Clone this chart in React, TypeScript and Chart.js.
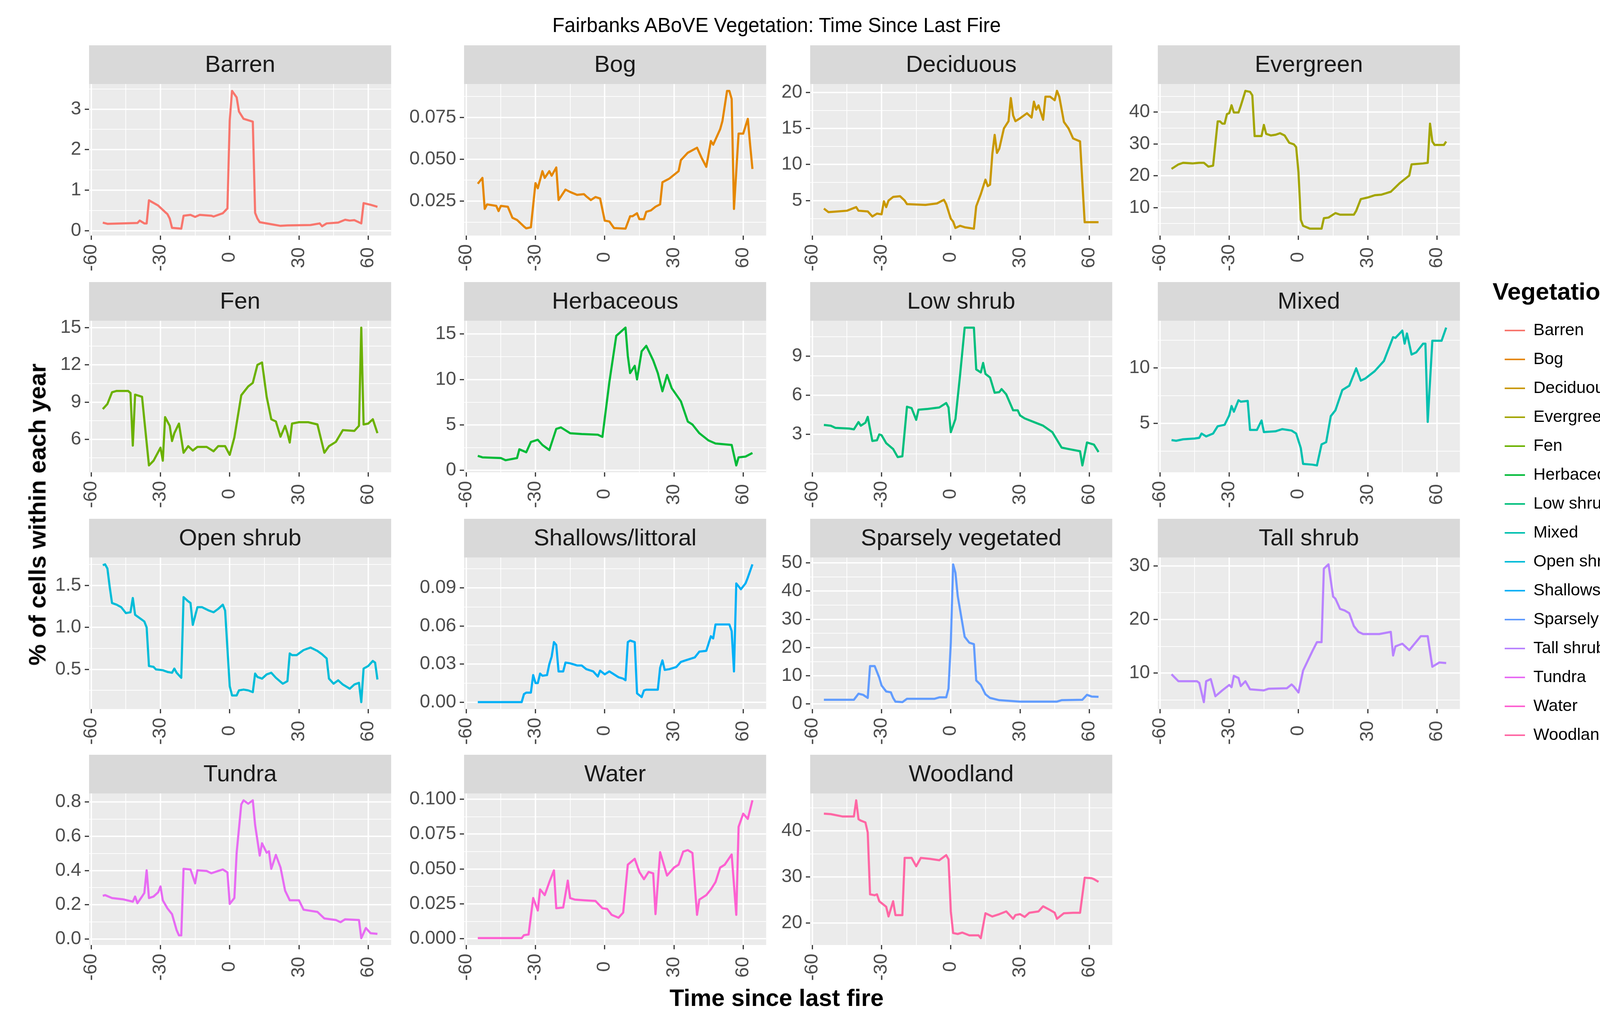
import React, { useEffect, useRef } from 'react';
import { Chart, registerables } from 'chart.js';

Chart.register(...registerables);

const FONT = '"Liberation Sans", Arial, sans-serif';

// ------------------------------------------------------------------ data
const vegetation = [
  'Barren', 'Bog', 'Deciduous', 'Evergreen', 'Fen', 'Herbaceous', 'Low shrub', 'Mixed',
  'Open shrub', 'Shallows/littoral', 'Sparsely vegetated', 'Tall shrub', 'Tundra', 'Water', 'Woodland',
];
const vegColors = [
  '#F8766D', '#E58700', '#C99800', '#A3A500', '#6BB100', '#00BA38', '#00BF7D', '#00C0AF',
  '#00BCD8', '#00B0F6', '#619CFF', '#B983FF', '#E76BF3', '#FD61D1', '#FF67A4',
];

const xTicks = [-60, -30, 0, 30, 60];
const xTickLabels = ['-60', '-30', '0', '30', '60'];

type Pt = [number, number];

const barren: Pt[] = [[-55,0.20],[-53,0.17],[-40,0.19],[-39,0.25],[-37,0.18],[-36,0.18],[-35,0.75],[-31,0.62],[-28,0.46],[-27,0.41],[-26,0.30],[-25,0.07],[-21,0.05],[-20,0.37],[-17,0.39],[-15,0.34],[-13,0.39],[-8,0.37],[-7,0.35],[-3,0.43],[-1,0.55],[0,2.72],[1,3.45],[3,3.29],[4,2.94],[6,2.76],[10,2.69],[11,0.44],[12,0.30],[13,0.21],[18,0.16],[22,0.12],[25,0.13],[35,0.14],[39,0.18],[40,0.11],[42,0.18],[47,0.20],[50,0.27],[52,0.25],[54,0.26],[57,0.18],[58,0.68],[61,0.64],[64,0.59]];
const bog: Pt[] = [[-55,0.0354],[-53,0.0389],[-52,0.0204],[-51,0.0231],[-47,0.0222],[-46,0.0191],[-45,0.0222],[-42,0.0217],[-40,0.0151],[-38,0.0138],[-35,0.0099],[-34,0.0088],[-32,0.0094],[-30,0.0358],[-29,0.0327],[-27,0.0429],[-26,0.0389],[-24,0.0429],[-23,0.0402],[-21,0.0451],[-20,0.0257],[-17,0.0319],[-15,0.0305],[-12,0.0288],[-9,0.0292],[-8,0.0279],[-6,0.0257],[-4,0.0275],[-2,0.0266],[0,0.0134],[2,0.0129],[4,0.0090],[9,0.0086],[11,0.0160],[12,0.0160],[14,0.0178],[15,0.0143],[17,0.0143],[18,0.0187],[20,0.0195],[22,0.0217],[24,0.0231],[25,0.0363],[28,0.0385],[30,0.0407],[32,0.0429],[33,0.0495],[36,0.0539],[40,0.0569],[42,0.0508],[44,0.0455],[46,0.0609],[47,0.0587],[50,0.0679],[51,0.0728],[53,0.0908],[54,0.0908],[55,0.0860],[56,0.0204],[58,0.0653],[60,0.0653],[62,0.0741],[63,0.0587],[64,0.0442]];
const deciduous: Pt[] = [[-55,3.89],[-53,3.39],[-49,3.49],[-45,3.59],[-41,4.09],[-40,3.59],[-36,3.49],[-34,2.79],[-32,3.19],[-30,3.09],[-29,4.9],[-28,4.09],[-27,5.0],[-25,5.5],[-22,5.6],[-20,5.0],[-19,4.5],[-11,4.4],[-6,4.6],[-3,5.1],[-2,4.5],[0,2.48],[1,2.08],[2,1.2],[4,1.5],[6,1.3],[10,1.1],[11,4.2],[13,5.9],[15,7.9],[16,7.0],[17,7.2],[18,11.5],[19,14.1],[20,11.6],[21,12.2],[23,15],[25,16],[26,19.2],[27,16.8],[28,16],[30,16.4],[33,17.1],[35,16.5],[36,18.7],[37,17.6],[38,18.2],[40,16.2],[41,19.4],[43,19.4],[45,18.9],[46,20.2],[47,19.4],[49,15.9],[51,15],[53,13.6],[56,13.2],[57,7.5],[58,2.0],[64,2.0]];
const evergreen: Pt[] = [[-55,22.2],[-52,23.6],[-50,24.1],[-46,23.9],[-43,24.1],[-41,24.1],[-39,22.9],[-37,23.2],[-35,37.1],[-34,37.1],[-33,36.4],[-32,36.4],[-31,39.4],[-30,39.7],[-29,42.2],[-28,39.9],[-26,39.9],[-25,42],[-23,46.7],[-21,46.4],[-20,45.3],[-19,32.5],[-16,32.5],[-15,36],[-14,33.2],[-12,32.7],[-10,32.9],[-8,33.4],[-6,32.7],[-4,30.4],[-2,29.9],[-1,29],[0,21.1],[1,6.2],[2,4.3],[5,3.4],[10,3.4],[11,6.7],[13,6.9],[16,8.3],[18,7.8],[24,7.8],[25,9],[27,12.7],[30,13.2],[33,13.9],[36,14.1],[40,15],[42,16.4],[44,17.8],[48,20.1],[49,23.6],[54,23.9],[56,24.1],[57,36.4],[58,30.8],[59,29.7],[63,29.7],[64,30.8]];
const fen: Pt[] = [[-55,8.44],[-53,8.85],[-51,9.79],[-49,9.9],[-44,9.9],[-43,9.73],[-42,5.5],[-41,9.6],[-38,9.43],[-37,7.56],[-35,3.9],[-33,4.28],[-30,5.33],[-29,4.28],[-28,7.79],[-26,7.09],[-25,5.86],[-24,6.5],[-22,7.27],[-20,4.92],[-18,5.45],[-16,5.1],[-14,5.39],[-10,5.39],[-7,5.04],[-5,5.45],[-2,5.45],[0,4.75],[2,6.15],[5,9.55],[8,10.26],[10,10.55],[12,12.0],[14,12.19],[16,9.43],[18,7.62],[20,7.44],[22,6.21],[24,7.09],[25,6.5],[26,5.74],[27,7.27],[30,7.38],[34,7.38],[38,7.2],[41,4.92],[43,5.45],[46,5.8],[49,6.74],[54,6.68],[56,7.09],[57,15.0],[58,7.2],[60,7.27],[62,7.62],[64,6.5]];
const herbaceous: Pt[] = [[-55,1.6],[-53,1.44],[-45,1.36],[-43,1.12],[-38,1.36],[-37,2.32],[-34,2.0],[-32,3.13],[-29,3.37],[-27,2.8],[-24,2.24],[-21,4.57],[-19,4.73],[-15,4.09],[-10,4.0],[-3,3.93],[-1,3.69],[2,9.7],[5,14.8],[9,15.7],[10,12.6],[11,10.7],[13,11.5],[14,10.0],[16,13.1],[18,13.7],[21,12.1],[23,10.7],[25,8.7],[27,10.5],[29,9.05],[33,7.6],[36,5.37],[38,5.05],[41,4.09],[45,3.29],[48,2.96],[55,2.8],[57,0.55],[58,1.44],[61,1.52],[64,1.92]];
const lowShrub: Pt[] = [[-55,3.73],[-52,3.67],[-50,3.5],[-44,3.45],[-42,3.39],[-40,3.95],[-39,3.67],[-37,3.9],[-36,4.35],[-34,2.5],[-32,2.55],[-31,3.0],[-30,2.94],[-28,2.33],[-25,1.88],[-23,1.26],[-21,1.32],[-19,5.13],[-17,5.02],[-15,4.12],[-14,4.9],[-10,4.96],[-5,5.07],[-2,5.41],[-1,5.07],[0,3.17],[2,4.18],[4,7.54],[6,11.2],[10,11.2],[11,7.99],[13,7.76],[14,8.49],[15,7.65],[17,7.37],[19,6.2],[21,6.25],[22,6.48],[24,6.08],[27,4.85],[29,4.85],[30,4.46],[32,4.23],[36,3.95],[40,3.67],[44,3.17],[48,1.99],[51,1.88],[56,1.71],[57,0.62],[59,2.38],[62,2.22],[64,1.65]];
const mixed: Pt[] = [[-55,3.49],[-53,3.43],[-50,3.56],[-45,3.63],[-43,3.69],[-42,4.08],[-40,3.82],[-37,4.08],[-35,4.74],[-32,4.87],[-30,5.72],[-29,6.57],[-28,6.05],[-26,7.09],[-25,6.96],[-22,7.03],[-21,4.41],[-18,4.41],[-16,5.26],[-15,4.21],[-10,4.28],[-7,4.48],[-3,4.35],[-1,4.08],[1,2.77],[2,1.34],[6,1.27],[8,1.2],[10,3.1],[12,3.3],[14,5.65],[16,6.18],[19,8.01],[22,8.4],[25,9.97],[27,8.86],[29,9.06],[33,9.71],[37,10.63],[41,12.79],[42,12.72],[45,13.38],[46,12.2],[47,13.12],[49,11.22],[51,11.41],[54,12.2],[55,12.2],[56,5.13],[58,12.46],[62,12.46],[64,13.65]];
const openShrub: Pt[] = [[-55,1.74],[-54,1.75],[-53,1.70],[-52,1.48],[-51,1.29],[-49,1.27],[-47,1.24],[-45,1.17],[-43,1.18],[-42,1.35],[-41,1.15],[-39,1.11],[-37,1.07],[-36,1.0],[-35,0.54],[-33,0.53],[-32,0.5],[-29,0.49],[-27,0.47],[-25,0.46],[-24,0.51],[-23,0.46],[-21,0.40],[-20,1.36],[-18,1.31],[-17,1.29],[-16,1.03],[-14,1.24],[-12,1.24],[-9,1.2],[-7,1.18],[-5,1.22],[-3,1.27],[-2,1.2],[-1,0.75],[0,0.30],[1,0.19],[3,0.19],[4,0.25],[6,0.26],[8,0.25],[10,0.23],[11,0.45],[12,0.41],[14,0.39],[16,0.44],[18,0.46],[20,0.40],[23,0.33],[25,0.36],[26,0.69],[27,0.67],[29,0.67],[32,0.73],[35,0.76],[38,0.72],[40,0.68],[42,0.63],[43,0.39],[45,0.33],[47,0.37],[49,0.32],[52,0.27],[54,0.32],[56,0.34],[57,0.11],[58,0.51],[60,0.54],[62,0.60],[63,0.58],[64,0.38]];
const shallows: Pt[] = [[-55,0],[-36,0],[-35,0.0063],[-34,0.0075],[-32,0.0075],[-31,0.0213],[-30,0.015],[-29,0.015],[-28,0.0225],[-27,0.0208],[-25,0.0213],[-24,0.030],[-23,0.0358],[-22,0.0473],[-21,0.045],[-20,0.0242],[-18,0.0242],[-17,0.0312],[-15,0.0306],[-12,0.0289],[-10,0.0289],[-8,0.026],[-5,0.0242],[-3,0.0202],[-2,0.0248],[0,0.0219],[2,0.0242],[4,0.0219],[6,0.0196],[8,0.0185],[9,0.0173],[10,0.0473],[11,0.0485],[13,0.0473],[14,0.0069],[16,0.004],[17,0.0092],[18,0.0098],[23,0.0098],[24,0.0271],[25,0.0329],[26,0.0254],[28,0.026],[31,0.0277],[33,0.0317],[35,0.0329],[39,0.0352],[41,0.0398],[44,0.0404],[46,0.0519],[47,0.0502],[48,0.0612],[54,0.0612],[55,0.056],[56,0.0242],[57,0.0935],[59,0.0889],[61,0.0935],[62,0.0981],[64,0.1085]];
const sparsely: Pt[] = [[-55,1.45],[-42,1.45],[-40,3.6],[-38,3.2],[-36,2.1],[-35,13.4],[-33,13.4],[-31,9.3],[-30,6.5],[-28,4.4],[-26,4.1],[-25,2.1],[-24,0.8],[-21,0.6],[-19,1.8],[-7,1.8],[-5,2.3],[-2,2.3],[-1,5.4],[0,21.7],[1,49.5],[2,46.5],[3,38.2],[6,23.8],[8,21.7],[10,21.2],[11,8.3],[13,6.7],[15,3.4],[17,2.1],[21,1.3],[30,0.8],[46,0.8],[48,1.3],[57,1.45],[59,3.2],[61,2.6],[64,2.5]];
const tallShrub: Pt[] = [[-55,9.8],[-52,8.5],[-44,8.5],[-43,8.2],[-41,4.6],[-40,8.5],[-38,8.9],[-36,5.7],[-33,6.8],[-30,7.8],[-29,7.4],[-28,9.5],[-26,9.1],[-25,7.6],[-23,8.5],[-21,7.0],[-15,6.8],[-13,7.1],[-5,7.2],[-3,7.9],[-2,7.5],[0,6.4],[2,10.5],[6,14.1],[8,15.8],[10,15.8],[11,29.5],[13,30.3],[15,24.3],[16,23.9],[18,22],[20,21.7],[22,21.2],[24,18.8],[26,17.7],[28,17.3],[35,17.3],[40,17.7],[41,13.3],[42,15],[45,15.5],[48,14.3],[53,16.9],[56,16.9],[58,11.2],[61,12],[64,11.9]];
const tundra: Pt[] = [[-55,0.252],[-54,0.256],[-51,0.239],[-46,0.231],[-42,0.218],[-41,0.248],[-40,0.209],[-38,0.248],[-37,0.269],[-36,0.401],[-35,0.239],[-33,0.248],[-31,0.273],[-30,0.307],[-29,0.226],[-27,0.179],[-25,0.145],[-23,0.051],[-22,0.021],[-21,0.021],[-20,0.41],[-17,0.406],[-15,0.325],[-14,0.401],[-10,0.397],[-8,0.384],[-6,0.393],[-3,0.406],[-1,0.389],[0,0.205],[2,0.239],[3,0.504],[5,0.786],[6,0.81],[8,0.79],[10,0.81],[11,0.666],[13,0.487],[14,0.559],[16,0.504],[17,0.512],[18,0.41],[20,0.491],[22,0.418],[24,0.282],[26,0.226],[30,0.226],[32,0.171],[38,0.158],[41,0.12],[46,0.111],[48,0.098],[50,0.115],[56,0.111],[57,0.005],[59,0.064],[61,0.034],[64,0.03]];
const water: Pt[] = [[-55,0.0005],[-36,0.0005],[-35,0.0026],[-33,0.0031],[-31,0.0292],[-29,0.0203],[-28,0.0354],[-26,0.0313],[-24,0.0406],[-22,0.049],[-21,0.0219],[-18,0.0224],[-16,0.0417],[-15,0.0292],[-13,0.0281],[-9,0.0276],[-4,0.0271],[-1,0.0219],[1,0.0214],[3,0.0172],[6,0.0151],[8,0.0188],[10,0.0531],[13,0.0573],[15,0.0479],[17,0.0427],[19,0.0479],[21,0.0469],[22,0.0177],[24,0.062],[27,0.0453],[30,0.051],[32,0.0531],[34,0.0625],[36,0.0635],[38,0.0615],[40,0.0172],[41,0.0281],[44,0.0313],[46,0.0354],[48,0.0406],[50,0.051],[52,0.0531],[55,0.0604],[57,0.0172],[58,0.0802],[60,0.0896],[62,0.0859],[64,0.0992]];
const woodland: Pt[] = [[-55,43.7],[-52,43.6],[-47,43.1],[-42,43.1],[-41,46.6],[-40,42.5],[-39,42.2],[-37,41.8],[-36,39.6],[-35,26.2],[-33,26],[-32,26.2],[-31,24.7],[-28,23.5],[-27,21.4],[-25,24.7],[-24,21.7],[-21,21.7],[-20,34.1],[-17,34.1],[-15,32.3],[-13,34.1],[-9,33.9],[-5,33.6],[-2,34.7],[-1,33.8],[0,22.5],[1,17.8],[3,17.6],[5,17.9],[8,17.3],[12,17.3],[13,16.7],[15,22.1],[18,21.4],[21,21.9],[24,22.5],[27,20.9],[28,21.7],[30,21.9],[32,21.3],[34,22.2],[38,22.5],[40,23.6],[43,22.8],[45,22.2],[46,20.9],[49,22.1],[53,22.2],[56,22.2],[58,29.8],[61,29.7],[62,29.5],[64,28.9]];

const series: Pt[][] = [barren, bog, deciduous, evergreen, fen, herbaceous, lowShrub, mixed, openShrub, shallows, sparsely, tallShrub, tundra, water, woodland];

const yTickValues: number[][] = [
  [0, 1, 2, 3], [0.025, 0.05, 0.075], [5, 10, 15, 20], [10, 20, 30, 40],
  [6, 9, 12, 15], [0, 5, 10, 15], [3, 6, 9], [5, 10],
  [0.5, 1.0, 1.5], [0, 0.03, 0.06, 0.09], [0, 10, 20, 30, 40, 50], [10, 20, 30],
  [0, 0.2, 0.4, 0.6, 0.8], [0, 0.025, 0.05, 0.075, 0.1], [20, 30, 40],
];
const yTickLabels: string[][] = [
  ['0', '1', '2', '3'], ['0.025', '0.050', '0.075'], ['5', '10', '15', '20'], ['10', '20', '30', '40'],
  ['6', '9', '12', '15'], ['0', '5', '10', '15'], ['3', '6', '9'], ['5', '10'],
  ['0.5', '1.0', '1.5'], ['0.00', '0.03', '0.06', '0.09'], ['0', '10', '20', '30', '40', '50'], ['10', '20', '30'],
  ['0.0', '0.2', '0.4', '0.6', '0.8'], ['0.000', '0.025', '0.050', '0.075', '0.100'], ['20', '30', '40'],
];

// ------------------------------------------------------------------ layout
const PAGE_W = 4310, PAGE_H = 2634;
const COL_LEFT = [228, 1188, 2074, 2964];
const ROW_TOP = [116, 722, 1328, 1932];
const PANEL_W = 784, PANEL_H = 388, STRIP_H = 99;
const AXIS_W = 180, XAXIS_H = 100;
const TICK_SIZE = 48;

function expand(lo: number, hi: number): [number, number] {
  const r = hi - lo;
  return [lo - 0.05 * r, hi + 0.05 * r];
}

const allX = series.flat().map((p) => p[0]);
const [X_MIN, X_MAX] = expand(Math.min(...allX), Math.max(...allX));

function withMinors(major: number[], lo: number, hi: number): number[] {
  const step = major[1] - major[0];
  const all = [major[0] - step / 2];
  major.forEach((m) => { all.push(m); all.push(m + step / 2); });
  return all.filter((v) => v >= lo && v <= hi).sort((a, b) => a - b);
}
function majorIndex(major: number[], v: number): number {
  const step = Math.abs(major[1] - major[0]);
  return major.findIndex((m) => Math.abs(m - v) < step * 1e-6);
}

// centre the rotated x labels like ggplot (Chart.js right-aligns rotated text)
function centredXLabels(): string[] {
  const c = document.createElement('canvas').getContext('2d') as CanvasRenderingContext2D;
  c.font = `${TICK_SIZE}px ${FONT}`;
  const widths = xTickLabels.map((l) => c.measureText(l).width);
  const wMax = Math.max(...widths);
  let sp = '\u200A';
  let spW = c.measureText(sp.repeat(10)).width / 10;
  if (!(spW > 0.5)) { sp = ' '; spW = c.measureText('          ').width / 10; }
  return xTickLabels.map((l, i) => l + sp.repeat(Math.max(0, Math.round((wMax - widths[i]) / 2 / spW))));
}

const panelBackground = {
  id: 'panelBackground',
  beforeDraw(chart: any) {
    const { ctx, chartArea: a } = chart;
    ctx.save();
    ctx.fillStyle = '#D9D9D9';
    ctx.fillRect(a.left, a.top - STRIP_H, a.right - a.left, STRIP_H);
    ctx.fillStyle = '#EBEBEB';
    ctx.fillRect(a.left, a.top, a.right - a.left, a.bottom - a.top);
    ctx.restore();
  },
};

function FacetPanel({ idx }: { idx: number }) {
  const ref = useRef<HTMLCanvasElement>(null);
  const row = Math.floor(idx / 4);
  const col = idx % 4;
  const left = COL_LEFT[col] - AXIS_W;
  const top = ROW_TOP[row];
  const w = AXIS_W + PANEL_W;
  const h = STRIP_H + PANEL_H + XAXIS_H;

  useEffect(() => {
    const data = series[idx];
    const ys = data.map((p) => p[1]);
    const [yMin, yMax] = expand(Math.min(...ys), Math.max(...ys));
    const yMaj = yTickValues[idx];
    const yLab = yTickLabels[idx];
    const yAll = withMinors(yMaj, yMin, yMax);
    const xAll = withMinors(xTicks, X_MIN, X_MAX);
    const xLab = centredXLabels();

    const gridFor = (major: number[]) => ({
      color: '#FFFFFF',
      lineWidth: (c: any) => (c.tick && majorIndex(major, c.tick.value) >= 0 ? 3.5 : 1.8),
      drawTicks: true,
      tickLength: 11,
      tickWidth: 3,
      tickColor: (c: any) => (c.tick && majorIndex(major, c.tick.value) >= 0 ? '#333333' : 'rgba(0,0,0,0)'),
    });

    const chart = new Chart(ref.current as HTMLCanvasElement, {
      type: 'line',
      data: {
        datasets: [{
          label: vegetation[idx],
          data: data.map(([x, y]) => ({ x, y })),
          borderColor: vegColors[idx],
          backgroundColor: vegColors[idx],
          borderWidth: 5.5,
          pointRadius: 0,
          tension: 0,
          fill: false,
          borderJoinStyle: 'round',
        }],
      },
      options: {
        animation: false,
        responsive: false,
        maintainAspectRatio: false,
        devicePixelRatio: 1,
        events: [],
        layout: { padding: 0 },
        scales: {
          x: {
            type: 'linear',
            position: 'bottom',
            min: X_MIN,
            max: X_MAX,
            bounds: 'data',
            afterBuildTicks: (s: any) => { s.ticks = xAll.map((v) => ({ value: v })); },
            afterFit: (s: any) => { s.height = XAXIS_H; },
            grid: gridFor(xTicks),
            border: { display: false },
            ticks: {
              autoSkip: false,
              maxRotation: 90,
              minRotation: 90,
              padding: 11,
              color: '#4D4D4D',
              font: { family: FONT, size: TICK_SIZE },
              callback: (v: any) => { const i = majorIndex(xTicks, Number(v)); return i >= 0 ? xLab[i] : ''; },
            },
          },
          y: {
            type: 'linear',
            position: 'left',
            min: yMin,
            max: yMax,
            bounds: 'data',
            afterBuildTicks: (s: any) => { s.ticks = yAll.map((v) => ({ value: v })); },
            afterFit: (s: any) => { s.width = AXIS_W; },
            grid: gridFor(yMaj),
            border: { display: false },
            ticks: {
              autoSkip: false,
              padding: 9,
              color: '#4D4D4D',
              font: { family: FONT, size: TICK_SIZE },
              callback: (v: any) => { const i = majorIndex(yMaj, Number(v)); return i >= 0 ? yLab[i] : ''; },
            },
          },
        },
        plugins: {
          legend: { display: false },
          tooltip: { enabled: false },
          title: {
            display: true,
            text: vegetation[idx],
            fullSize: false,
            color: '#1A1A1A',
            font: { family: FONT, size: 60, weight: 'normal', lineHeight: 1.2 },
            padding: { top: 15, bottom: 12 },
          },
        },
      } as any,
      plugins: [panelBackground],
    } as any);
    return () => chart.destroy();
  }, [idx]);

  return (
    <canvas ref={ref} width={w} height={h}
      style={{ position: 'absolute', left, top, width: w, height: h }} />
  );
}

function LegendBlock() {
  const ref = useRef<HTMLCanvasElement>(null);
  // canvas is wider than the space left on the page (the page container clips it);
  // this lets Chart.js give the legend box its full natural width
  const left = 3821, top = 719, w = 1100, h = 1300;
  useEffect(() => {
    const chart = new Chart(ref.current as HTMLCanvasElement, {
      type: 'line',
      data: {
        datasets: vegetation.map((v, i) => ({
          label: v, data: [], borderColor: vegColors[i], backgroundColor: vegColors[i], borderWidth: 0,
        })),
      },
      options: {
        animation: false,
        responsive: false,
        maintainAspectRatio: false,
        devicePixelRatio: 1,
        events: [],
        layout: { padding: 0 },
        scales: { x: { display: false }, y: { display: false } },
        plugins: {
          tooltip: { enabled: false },
          legend: {
            display: true,
            position: 'left',
            align: 'start',
            maxWidth: 540,
            title: {
              display: true,
              text: 'Vegetation',
              position: 'start',
              color: '#000000',
              font: { family: FONT, size: 62, weight: 'bold' },
              padding: { top: 0, bottom: 0 },
            },
            labels: {
              boxWidth: 52,
              boxHeight: 4,
              padding: 31,
              color: '#000000',
              font: { family: FONT, size: 43 },
            },
          },
        },
      } as any,
    } as any);
    return () => chart.destroy();
  }, []);
  return (
    <canvas ref={ref} width={w} height={h}
      style={{ position: 'absolute', left, top, width: w, height: h }} />
  );
}

export default function App() {
  useEffect(() => { document.body.style.margin = '0'; }, []);
  const text = (extra: any) => ({
    position: 'absolute' as const,
    whiteSpace: 'nowrap' as const,
    color: '#000000',
    fontFamily: FONT,
    lineHeight: 1,
    ...extra,
  });
  return (
    <div style={{ position: 'fixed', left: 0, top: 0, width: PAGE_W, height: PAGE_H, background: '#FFFFFF', overflow: 'hidden' }}>
      <div style={text({ left: 1988, top: 64, fontSize: 51, transform: 'translate(-50%, -50%)' })}>
        Fairbanks ABoVE Vegetation: Time Since Last Fire
      </div>
      {series.map((_, i) => <FacetPanel key={i} idx={i} />)}
      <LegendBlock />
      <div style={text({ left: 1988, top: 2554, fontSize: 61, fontWeight: 'bold', transform: 'translate(-50%, -50%)' })}>
        Time since last fire
      </div>
      <div style={text({ left: 96, top: 1317, fontSize: 61, fontWeight: 'bold', transform: 'translate(-50%, -50%) rotate(-90deg)' })}>
        % of cells within each year
      </div>
    </div>
  );
}
